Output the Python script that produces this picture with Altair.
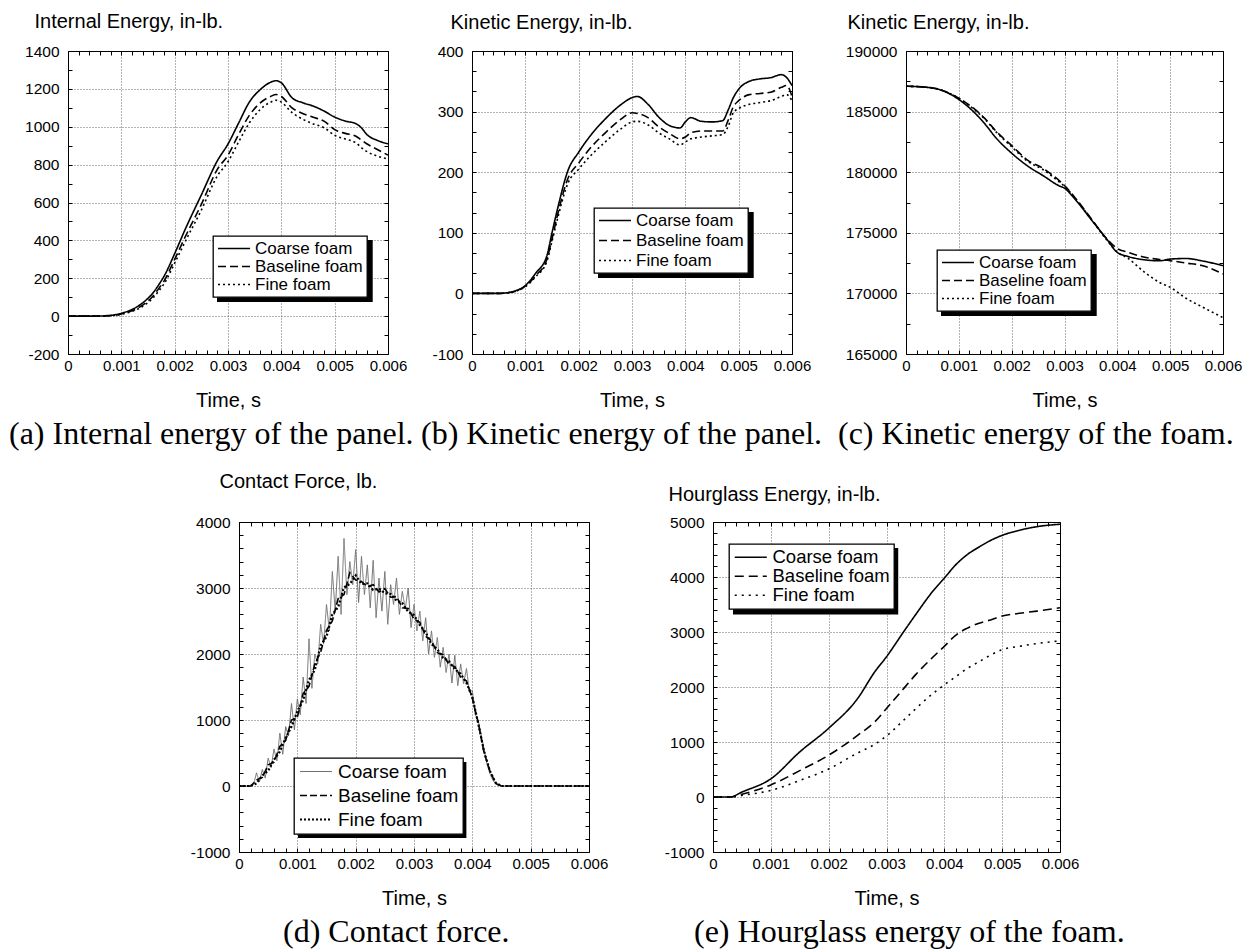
import altair as alt
import pandas as pd

SERIES = ["Coarse foam", "Baseline foam", "Fine foam"]
X_MAJOR = [0, 0.001, 0.002, 0.003, 0.004, 0.005, 0.006]
X_MINOR = [round(i * 0.0002, 4) for i in range(31)]

# ---------------- (a) Internal energy of the panel ----------------
A_T = [0, 0.0005, 0.0007, 0.0009, 0.001, 0.0012, 0.0014, 0.0016, 0.0017, 0.0018,
       0.002, 0.0022, 0.0025, 0.0028, 0.003, 0.0032, 0.0034, 0.0036, 0.0038, 0.0039,
       0.004, 0.0042, 0.0044, 0.0046, 0.0048, 0.005, 0.0052, 0.0054, 0.0055, 0.0056,
       0.0058, 0.006]
A_COARSE = [0, 0, 2, 8, 15, 35, 70, 125, 165, 210, 330, 460, 640, 820, 909, 1020, 1130,
            1195, 1235, 1243, 1232, 1153, 1127, 1109, 1083, 1051, 1030, 1016, 995, 960,
            928, 910]
A_BASE = [0, 0, 1, 6, 12, 28, 58, 108, 145, 185, 300, 420, 590, 775, 850, 960, 1060,
          1125, 1160, 1170, 1160, 1100, 1070, 1050, 1030, 985, 965, 950, 930, 910, 880, 850]
A_FINE = [0, 0, 1, 5, 10, 25, 52, 98, 132, 170, 280, 395, 560, 740, 815, 920, 1020,
          1090, 1130, 1140, 1130, 1075, 1040, 1015, 995, 955, 935, 915, 890, 870, 845, 830]

# ---------------- (b) Kinetic energy of the panel ----------------
B_T = [0, 0.0005, 0.0008, 0.001, 0.0012, 0.0014, 0.0015, 0.0016, 0.0018, 0.002, 0.0022,
       0.0025, 0.0028, 0.003, 0.0031, 0.0033, 0.0035, 0.0037, 0.0039, 0.004, 0.0041,
       0.0043, 0.0045, 0.0047, 0.0048, 0.0049, 0.005, 0.0052, 0.0054, 0.0056, 0.0058,
       0.0059, 0.006]
B_COARSE = [0, 0, 4, 13, 34, 61, 100, 138, 203, 233, 258, 288, 312, 323, 325, 312, 291,
            277, 273, 283, 290, 284, 283, 285, 302, 323, 337, 350, 354, 356, 361, 356, 343]
B_BASE = [0, 0, 3, 12, 30, 55, 90, 128, 190, 215, 238, 265, 288, 298, 297, 290, 275, 264,
          255, 258, 265, 268, 268, 268, 285, 308, 318, 328, 330, 332, 340, 343, 325]
B_FINE = [0, 0, 3, 11, 28, 52, 86, 122, 182, 205, 225, 250, 272, 283, 284, 278, 265, 255,
          245, 250, 255, 258, 260, 262, 275, 298, 305, 312, 315, 318, 325, 328, 318]

# ---------------- (c) Kinetic energy of the foam ----------------
C_T = [0, 0.0005, 0.001, 0.0013, 0.0015, 0.0017, 0.002, 0.0023, 0.0026, 0.0029, 0.003,
       0.0032, 0.0035, 0.0038, 0.004, 0.0042, 0.0045, 0.0048, 0.005, 0.0053, 0.0056, 0.006]
C_COARSE = [187100, 186950, 186000, 184900, 183950, 182850, 181570, 180520, 179700,
            178870, 178680, 177770, 176120, 174480, 173380, 173050, 172780, 172690,
            172830, 172880, 172690, 172280]
C_BASE = [187100, 186950, 186100, 185200, 184400, 183400, 182200, 181000, 180300, 179300,
          178900, 177900, 176200, 174500, 173700, 173400, 173000, 172800, 172700, 172500,
          172300, 171600]
C_FINE = [187100, 186950, 186100, 185150, 184350, 183350, 182100, 180900, 180200, 179200,
          178850, 177850, 176150, 174400, 173400, 172900, 171800, 170900, 170500, 169600,
          168900, 168000]

# ---------------- (d) Contact force ----------------
D_T_COARSE = [0] + [round(0.0002 + 0.00005 * i, 5) for i in range(87)] + [0.006]
D_COARSE = [0,
            0, 20, 200, 60, 250, 120, 420, 280, 560, 380,
            800, 480, 900, 760, 1250, 850, 1320, 1080, 1650, 1250,
            2230, 1480, 2000, 1850, 2450, 2150, 2750, 2350, 3250, 2650,
            3480, 2600, 3750, 2900, 3400, 3050, 3580, 2780, 3480, 2900,
            3350, 2700, 3420, 2550, 3150, 2650, 3250, 2450, 3050, 2750,
            3150, 2600, 2950, 2680, 3000, 2400, 2750, 2350, 2650, 2200,
            2550, 2000, 2350, 1950, 2250, 1800, 2100, 1720, 2000, 1560,
            1980, 1520, 1850, 1550, 1780, 1420, 1450, 1080, 1000, 780,
            560, 340, 190, 90, 30, 5, 0,
            0]
D_T = [round(0.0001 * i, 4) for i in range(46)] + [0.006]
D_BASE = [0, 0, 0, 90, 130, 320, 360, 600, 690, 1000,
          1040, 1400, 1510, 1850, 2030, 2360, 2500, 2840, 2900, 3230,
          3120, 3100, 3020, 3050, 2940, 2990, 2860, 2870, 2700, 2690,
          2530, 2480, 2270, 2200, 2020, 1990, 1840, 1810, 1650, 1590,
          1330, 960, 510, 230, 40, 0, 0]
D_FINE = [0, 0, 0, 40, 160, 230, 400, 520, 730, 900,
          1130, 1300, 1610, 1760, 2130, 2260, 2600, 2710, 3010, 3060,
          3190, 3060, 3070, 2970, 2990, 2920, 2910, 2810, 2770, 2640,
          2590, 2440, 2330, 2150, 2070, 1940, 1890, 1770, 1700, 1560,
          1350, 950, 530, 230, 50, 0, 0]

# ---------------- (e) Hourglass energy of the foam ----------------
E_T = [0, 0.0003, 0.0005, 0.001, 0.0015, 0.002, 0.0025, 0.0028, 0.003, 0.0033, 0.0035,
       0.0038, 0.004, 0.0042, 0.0044, 0.0046, 0.0048, 0.005, 0.0053, 0.0056, 0.006]
E_COARSE = [0, 0, 90, 330, 820, 1250, 1790, 2280, 2550, 3010, 3310, 3740, 3980, 4225,
            4410, 4545, 4665, 4757, 4850, 4915, 4960]
E_BASE = [0, 0, 50, 220, 480, 760, 1120, 1370, 1610, 1975, 2220, 2540, 2740, 2945, 3070,
          3160, 3220, 3290, 3340, 3380, 3440]
E_FINE = [0, 0, 30, 120, 300, 510, 800, 960, 1110, 1400, 1600, 1880, 2040, 2190, 2340,
          2460, 2580, 2680, 2740, 2790, 2840]


def long_df(t_lists, v_lists):
    rows = []
    for name, ts, vs in zip(SERIES, t_lists, v_lists):
        for t, v in zip(ts, vs):
            rows.append({"t": t, "v": v, "series": name})
    return pd.DataFrame(rows)


def steps(lo, hi, step):
    n = int(round((hi - lo) / step))
    return [round(lo + i * step, 6) for i in range(n + 1)]


FONT = "Liberation Sans"
BLACK3 = ["black", "black", "black"]


def panel(df, ydom, ymajor, yminor, ytitle, tx, ty, caption, cdx, coff, w, h,
          leg, dash, colors, widths, interp):
    xs = alt.Scale(domain=[0, 0.006], nice=False, zero=False)
    ys = alt.Scale(domain=ydom, nice=False, zero=False)
    corners = pd.DataFrame({"t": [0, 0.006], "v": ydom})
    ghost = alt.Chart(corners).mark_point(opacity=0)

    lab = ghost.encode(
        x=alt.X("t:Q", scale=xs, axis=alt.Axis(
            orient="bottom", values=X_MAJOR, ticks=False, domain=True,
            domainColor="black", domainWidth=1, grid=True, gridColor="#666",
            gridDash=[1, 2], gridWidth=1, labelExpr="toString(datum.value)",
            labelFont=FONT, labelFontSize=15, labelColor="black", labelPadding=4,
            labelFlush=False, labelOverlap=False, title="Time, s", titleFont=FONT,
            titleFontSize=20, titleFontWeight="normal", titleColor="black",
            titleBaseline="alphabetic", titleY=52)),
        y=alt.Y("v:Q", scale=ys, axis=alt.Axis(
            orient="left", values=ymajor, ticks=False, domain=True,
            domainColor="black", domainWidth=1, grid=True, gridColor="#666",
            gridDash=[1, 2], gridWidth=1, labelExpr="toString(datum.value)",
            labelFont=FONT, labelFontSize=15.5, labelColor="black", labelPadding=9,
            labelOverlap=False, title=ytitle, titleFont=FONT, titleFontSize=20,
            titleFontWeight="normal", titleColor="black", titleAngle=0,
            titleAlign="left", titleBaseline="alphabetic", titleX=tx, titleY=ty)),
    )
    tk = dict(domain=False, grid=False, labels=False, ticks=True, tickColor="black",
              tickWidth=1, tickSize={"expr": "-4"}, title=None)
    lb = ghost.encode(
        x=alt.X("t:Q", scale=xs, axis=alt.Axis(orient="bottom", values=X_MINOR, **tk)),
        y=alt.Y("v:Q", scale=ys, axis=alt.Axis(orient="left", values=yminor, **tk)),
    )
    tk2 = dict(tk, domain=True, domainColor="black", domainWidth=1)
    rt = ghost.encode(
        x=alt.X("t:Q", scale=xs, axis=alt.Axis(orient="top", values=X_MINOR, **tk2)),
        y=alt.Y("v:Q", scale=ys, axis=alt.Axis(orient="right", values=yminor, **tk2)),
    )

    lx, ly, fs, rp = leg
    pad, s, seg, gap = 4, 15, 32, 4
    # stroke sample drawn from the left edge of the symbol column, seg px long
    path = "M-1,0H%.4f" % ((seg - s / 2) / (s / 2))
    legend = alt.Legend(title=None, orient="none", legendX=lx, legendY=ly,
                        labelFontSize=fs, labelFont=FONT, labelColor="black",
                        rowPadding=rp, symbolType=path, symbolSize=s * s,
                        labelOffset=seg - s + gap, padding=pad, fillColor="white",
                        strokeColor="black")
    lines = alt.Chart(df).mark_line(clip=True, interpolate=interp).encode(
        x=alt.X("t:Q", scale=xs, axis=None),
        y=alt.Y("v:Q", scale=ys, axis=None),
        strokeDash=alt.StrokeDash("series:N", scale=alt.Scale(domain=SERIES, range=dash),
                                  legend=legend),
        color=alt.Color("series:N", scale=alt.Scale(domain=SERIES, range=colors),
                        legend=legend),
        strokeWidth=alt.StrokeWidth("series:N", scale=alt.Scale(domain=SERIES, range=widths),
                                    legend=legend),
    )
    W = 2 * pad + seg + gap + 6.336 * fs + 4
    H = 2 * pad + 3 * (fs + 1) + 2 * rp
    shadow = alt.Chart(pd.DataFrame({"k": [0]})).mark_rect(color="black").encode(
        x=alt.value(lx + 4), x2=alt.value(lx + W + 4),
        y=alt.value(ly + 4), y2=alt.value(ly + H + 4))

    return alt.layer(shadow, lines, lab, lb, rt).resolve_axis(
        x="independent", y="independent"
    ).properties(
        width=w, height=h,
        title=alt.TitleParams(caption, orient="bottom", anchor="start", frame="group",
                              dx=cdx, offset=coff, baseline="alphabetic",
                              font="Liberation Serif", fontSize=32,
                              fontWeight="normal", color="black"),
    )


def spacer(w, y0, y1, op):
    return alt.Chart(pd.DataFrame({"k": [0]})).mark_rect(color="white", opacity=op).encode(
        x=alt.value(0), x2=alt.value(4), y=alt.value(y0), y2=alt.value(y1)
    ).properties(width=w, height=1)


def indep(c):
    return c.resolve_scale(strokeDash="independent", color="independent",
                           strokeWidth="independent").resolve_legend(
        strokeDash="independent", color="independent", strokeWidth="independent")


DASH = [[1, 0], [8, 4], [2, 3]]
W3 = [1.6, 1.6, 1.6]

pa = panel(long_df([A_T] * 3, [A_COARSE, A_BASE, A_FINE]), [-200, 1400],
           steps(-200, 1400, 200), steps(-200, 1400, 100), "Internal Energy, in-lb.",
           -34, -24, "(a) Internal energy of the panel.", -59, 34, 320, 303,
           (145, 185, 17, 0), DASH, BLACK3, W3, "monotone")
pb = panel(long_df([B_T] * 3, [B_COARSE, B_BASE, B_FINE]), [-100, 400],
           steps(-100, 400, 100), [round(-100 + i * 100 / 3, 3) for i in range(16)],
           "Kinetic Energy, in-lb.", -22, -23, "(b) Kinetic energy of the panel.",
           -51, 34, 320, 303, (122, 157, 17, 2), DASH, BLACK3, W3, "monotone")
pc = panel(long_df([C_T] * 3, [C_COARSE, C_BASE, C_FINE]), [165000, 190000],
           steps(165000, 190000, 5000), steps(165000, 190000, 2500),
           "Kinetic Energy, in-lb.", -59, -23, "(c) Kinetic energy of the foam.",
           -68, 34, 317, 303, (31, 199, 17, 0), DASH, BLACK3, W3, "monotone")
pd_ = panel(long_df([D_T_COARSE, D_T, D_T], [D_COARSE, D_BASE, D_FINE]), [-1000, 4000],
            steps(-1000, 4000, 1000), steps(-1000, 4000, 200), "Contact Force, lb.",
            -20, -35, "(d) Contact force.", 44, 34, 350, 330, (55, 236, 19, 4),
            [[1, 0], [7, 3], [2, 2]], ["#707070", "black", "black"], [1, 2.2, 1.5],
            "linear")
pe = panel(long_df([E_T] * 3, [E_COARSE, E_BASE, E_FINE]), [-1000, 5000],
           steps(-1000, 5000, 1000), steps(-1000, 5000, 200), "Hourglass Energy, in-lb.",
           -45, -22, "(e) Hourglass energy of the foam.", -19, 34, 347, 330,
           (16, 22, 18.5, 0), [[1, 0], [9, 5], [2, 5]], BLACK3, W3, "monotone")

row1 = indep(alt.hconcat(spacer(59, -42, 413, 1), pa, spacer(84, 0, 1, 0), pb,
                         spacer(114, 0, 1, 0), pc, spacing=0, bounds="flush"))
row2 = indep(alt.hconcat(spacer(230, -55, 0, 1), pd_, spacer(124, 0, 1, 0), pe,
                         spacing=0, bounds="flush"))

chart = indep(alt.vconcat(row1, row2, spacing=1)).properties(
    padding=0, background="white"
).configure(font=FONT).configure_view(stroke="transparent").configure_legend(
    strokeWidth=1.3
)

chart.save("out.html", embed_options={"renderer": "svg", "actions": False})
